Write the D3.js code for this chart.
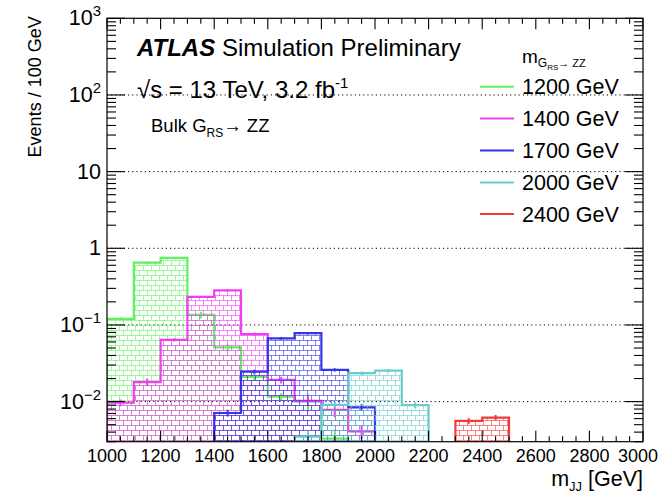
<!DOCTYPE html>
<html>
<head>
<meta charset="utf-8">
<script src="https://cdn.jsdelivr.net/npm/d3@7/dist/d3.min.js"></script>
<style>
  html, body { margin: 0; padding: 0; background: #fff; }
  text { font-family: "Liberation Sans", Arial, Helvetica, sans-serif; fill: #000; }
</style>
</head>
<body>
<svg id="chart" width="672" height="495"></svg>
<script>
// Bin edges of m_JJ [GeV], 100 GeV wide
const binEdges = [1000, 1100, 1200, 1300, 1400, 1500, 1600, 1700, 1800, 1900, 2000,
                  2100, 2200, 2300, 2400, 2500, 2600, 2700, 2800, 2900, 3000];

// Signal mass points (legend order)
const massLabels = ["1200 GeV", "1400 GeV", "1700 GeV", "2000 GeV", "2400 GeV"];
const seriesColors = ["#5ff05f", "#f23cf2", "#3535ea", "#6ccccc", "#f53838"];

// Events / 100 GeV for each mass point
const evts1200 = [0.12, 0.65, 0.75, 0.135, 0.051, 0.021, 0.0116, 0.010, 0.0033, 0,
                  0, 0, 0, 0, 0, 0, 0, 0, 0, 0];
const evts1400 = [0.0097, 0.018, 0.064, 0.232, 0.283, 0.076, 0.0192, 0.0102, 0.0078, 0.0041,
                  0, 0, 0, 0, 0, 0, 0, 0, 0, 0];
const evts1700 = [0, 0, 0, 0, 0.0071, 0.0246, 0.067, 0.078, 0.026, 0.0084,
                  0, 0, 0, 0, 0, 0, 0, 0, 0, 0];
const evts2000 = [0, 0, 0, 0, 0, 0, 0, 0.0035, 0.0091, 0.0235,
                  0.0254, 0.009, 0, 0, 0, 0, 0, 0, 0, 0];
const evts2400 = [0, 0, 0, 0, 0, 0, 0, 0, 0, 0,
                  0, 0, 0, 0.0056, 0.0062, 0, 0, 0, 0, 0];

// Relative MC statistical uncertainty per bin
const relErr1200 = [0.05, 0.03, 0.03, 0.10, 0.10, 0.10, 0.12, 0.25, 0.3, 0,
                    0, 0, 0, 0, 0, 0, 0, 0, 0, 0];
const relErr1400 = [0.10, 0.11, 0.05, 0.03, 0.03, 0.05, 0.10, 0.15, 0.20, 0.20,
                    0, 0, 0, 0, 0, 0, 0, 0, 0, 0];
const relErr1700 = [0, 0, 0, 0, 0.10, 0.06, 0.04, 0.03, 0.05, 0.10,
                    0, 0, 0, 0, 0, 0, 0, 0, 0, 0];
const relErr2000 = [0, 0, 0, 0, 0, 0, 0, 0.2, 0.10, 0.05,
                    0.05, 0.08, 0, 0, 0, 0, 0, 0, 0, 0];
const relErr2400 = [0, 0, 0, 0, 0, 0, 0, 0, 0, 0,
                    0, 0, 0, 0.08, 0.08, 0, 0, 0, 0, 0];

const seriesValues = [evts1200, evts1400, evts1700, evts2000, evts2400];
const seriesErrors = [relErr1200, relErr1400, relErr1700, relErr2000, relErr2400];

// Axis ticks and labels
const xMajorTicks = [1000, 1200, 1400, 1600, 1800, 2000, 2200, 2400, 2600, 2800, 3000];
const xMinorStep = 50;
const yDecades = [0.01, 0.1, 1, 10, 100, 1000];
const yTickBase = ["10", "10", "1", "10", "10", "10"];
const yTickExp  = ["\u22122", "\u22121", "", "", "2", "3"];

const xDomain = [1000, 3000];
const yDomain = [0.003, 1000];

// ---------------------------------------------------------------
const plot = { left: 107, right: 643, top: 18.3, bottom: 441.7 };

const svg = d3.select("#chart");
const x = d3.scaleLinear().domain(xDomain).range([plot.left, plot.right]);
const y = d3.scaleLog().domain(yDomain).range([plot.bottom, plot.top]);

const defs = svg.append("defs");
defs.append("clipPath").attr("id", "plotClip")
  .append("rect")
  .attr("x", plot.left).attr("y", plot.top)
  .attr("width", plot.right - plot.left).attr("height", plot.bottom - plot.top);

// Brick-style hatch used as histogram fill
seriesColors.forEach((c, i) => {
  const p = defs.append("pattern")
    .attr("id", "brick" + i)
    .attr("patternUnits", "userSpaceOnUse")
    .attr("width", 8).attr("height", 10)
    .attr("x", plot.left).attr("y", 0);
  const gp = p.append("g").attr("stroke", c).attr("stroke-width", 1).attr("stroke-opacity", 0.6).attr("fill", "none");
  gp.append("line").attr("x1", 0).attr("x2", 8).attr("y1", 0.5).attr("y2", 0.5);
  gp.append("line").attr("x1", 0).attr("x2", 8).attr("y1", 5.5).attr("y2", 5.5);
  gp.append("line").attr("x1", 0.5).attr("x2", 0.5).attr("y1", 0).attr("y2", 5.5);
  gp.append("line").attr("x1", 4.5).attr("x2", 4.5).attr("y1", 5.5).attr("y2", 10);
});

// Dotted horizontal grid at each decade
svg.append("g")
  .selectAll("line")
  .data(yDecades.filter(d => d < yDomain[1]))
  .join("line")
  .attr("x1", plot.left).attr("x2", plot.right)
  .attr("y1", d => y(d)).attr("y2", d => y(d))
  .attr("stroke", "#000").attr("stroke-width", 1)
  .attr("stroke-dasharray", "1.2,3");

// Histograms
const hists = svg.append("g").attr("clip-path", "url(#plotClip)");
const yFloor = yDomain[0] * 0.9;

function stepPoints(vals) {
  const pts = [[x(binEdges[0]), y(yFloor)]];
  vals.forEach((v, i) => {
    const yy = y(Math.max(v, yFloor));
    pts.push([x(binEdges[i]), yy]);
    pts.push([x(binEdges[i + 1]), yy]);
  });
  pts.push([x(binEdges[binEdges.length - 1]), y(yFloor)]);
  return pts;
}
const line = d3.line();

seriesValues.forEach((vals, i) => {
  const g = hists.append("g");
  const pts = stepPoints(vals);
  g.append("path")
    .attr("d", line(pts) + "Z")
    .attr("fill", "url(#brick" + i + ")")
    .attr("stroke", "none");
  g.append("path")
    .attr("d", line(pts))
    .attr("fill", "none")
    .attr("stroke", seriesColors[i])
    .attr("stroke-width", 2.2)
    .attr("stroke-linejoin", "miter");
  // statistical error bars at bin centres
  const errs = seriesErrors[i];
  g.selectAll("line.err")
    .data(vals.map((v, k) => ({ v, e: errs[k], c: (binEdges[k] + binEdges[k + 1]) / 2 }))
              .filter(d => d.v > yDomain[0] && d.e > 0))
    .join("line")
    .attr("class", "err")
    .attr("x1", d => x(d.c)).attr("x2", d => x(d.c))
    .attr("y1", d => y(d.v * (1 + d.e))).attr("y2", d => y(Math.max(d.v * (1 - d.e), yFloor)))
    .attr("stroke", seriesColors[i]).attr("stroke-width", 2);
});

// Frame
svg.append("rect")
  .attr("x", plot.left).attr("y", plot.top)
  .attr("width", plot.right - plot.left).attr("height", plot.bottom - plot.top)
  .attr("fill", "none").attr("stroke", "#000").attr("stroke-width", 1.2);

// X ticks (inward, bottom and top)
const xMinor = d3.range(xDomain[0], xDomain[1] + 1, xMinorStep).filter(v => !xMajorTicks.includes(v));
const xMajLen = 11, xMinLen = 5.5;
const axisG = svg.append("g").attr("stroke", "#000").attr("stroke-width", 1.1);
[[xMajorTicks, xMajLen], [xMinor, xMinLen]].forEach(([vals, len]) => {
  axisG.append("g").selectAll("line").data(vals).join("line")
    .attr("x1", d => x(d)).attr("x2", d => x(d))
    .attr("y1", plot.bottom).attr("y2", plot.bottom - len);
  axisG.append("g").selectAll("line").data(vals).join("line")
    .attr("x1", d => x(d)).attr("x2", d => x(d))
    .attr("y1", plot.top).attr("y2", plot.top + len);
});

// Y ticks (log, inward, left and right)
const yMinor = [];
for (let e = -3; e < 3; e++) {
  for (let m = 2; m <= 9; m++) {
    const v = m * Math.pow(10, e);
    if (v >= yDomain[0] && v <= yDomain[1]) yMinor.push(v);
  }
}
const yMajLen = 18, yMinLen = 9;
[[yDecades, yMajLen], [yMinor, yMinLen]].forEach(([vals, len]) => {
  axisG.append("g").selectAll("line").data(vals).join("line")
    .attr("x1", plot.left).attr("x2", plot.left + len)
    .attr("y1", d => y(d)).attr("y2", d => y(d));
  axisG.append("g").selectAll("line").data(vals).join("line")
    .attr("x1", plot.right).attr("x2", plot.right - len)
    .attr("y1", d => y(d)).attr("y2", d => y(d));
});

// X tick labels
svg.append("g").selectAll("text").data(xMajorTicks).join("text")
  .attr("x", (d, i) => x(d) + (i === xMajorTicks.length - 1 ? -5 : 0))
  .attr("y", 462)
  .attr("text-anchor", "middle")
  .attr("font-size", 18)
  .text(d => d);

// Y tick labels with exponents
const yl = svg.append("g").selectAll("text").data(yDecades).join("text")
  .attr("x", 101)
  .attr("y", d => y(d) + 7)
  .attr("text-anchor", "end")
  .attr("font-size", 21.5);
yl.each(function (d, i) {
  const t = d3.select(this);
  t.append("tspan").text(yTickBase[i]);
  if (yTickExp[i]) {
    t.append("tspan").attr("dy", -9).attr("font-size", 15).text(yTickExp[i]);
  }
});

// Axis titles
svg.append("text")
  .attr("transform", `translate(41,${plot.top - 2}) rotate(-90)`)
  .attr("text-anchor", "end")
  .attr("font-size", 18)
  .text("Events / 100 GeV");

const xt = svg.append("text")
  .attr("x", plot.right).attr("y", 486)
  .attr("text-anchor", "end")
  .attr("font-size", 21.5);
xt.append("tspan").text("m");
xt.append("tspan").attr("dy", 5).attr("font-size", 13).text("JJ");
xt.append("tspan").attr("dy", -5).text(" [GeV]");

// ATLAS label block
const atl = svg.append("text").attr("x", 137).attr("y", 56).attr("font-size", 24);
atl.append("tspan").attr("font-weight", "bold").attr("font-style", "italic").text("ATLAS");
atl.append("tspan").text(" Simulation Preliminary");

const rs = svg.append("text").attr("x", 137).attr("y", 98).attr("font-size", 24);
rs.append("tspan").text("\u221As = 13 TeV, 3.2 fb");
rs.append("tspan").attr("dy", -10).attr("font-size", 15).text("-1");

const bulk = svg.append("text").attr("x", 151).attr("y", 132).attr("font-size", 18.5);
bulk.append("tspan").text("Bulk G");
bulk.append("tspan").attr("dy", 5).attr("font-size", 12).text("RS");
bulk.append("tspan").attr("dy", -5).text("\u2192 ZZ");

// Legend
const legTitle = svg.append("text").attr("x", 522).attr("y", 63).attr("font-size", 19);
legTitle.append("tspan").text("m");
legTitle.append("tspan").attr("dy", 4).attr("font-size", 12).text("G");
legTitle.append("tspan").attr("dy", 3).attr("font-size", 8).text("RS");
legTitle.append("tspan").attr("dy", -3).attr("font-size", 11).text("\u2192 ZZ");

const legRowY = [86.7, 118.5, 150.5, 182.5, 214];
const leg = svg.append("g").selectAll("g").data(massLabels).join("g")
  .attr("transform", (d, i) => `translate(0,${legRowY[i]})`);
leg.append("line")
  .attr("x1", 480).attr("x2", 514).attr("y1", 0).attr("y2", 0)
  .attr("stroke", (d, i) => seriesColors[i]).attr("stroke-width", 2);
leg.append("text")
  .attr("x", 522).attr("y", 7.5)
  .attr("font-size", 21.5)
  .text(d => d);
</script>
</body>
</html>
